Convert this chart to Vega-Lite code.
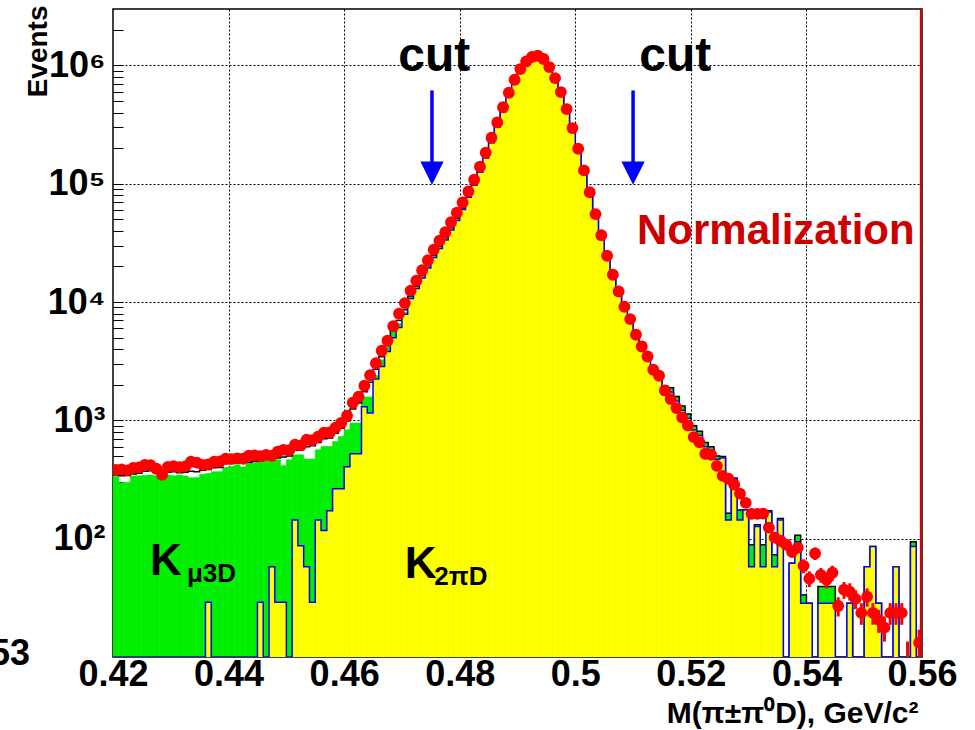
{
"$schema": "https://vega.github.io/schema/vega-lite/v6.json",
"width": 809, "height": 648,
"autosize": {"type": "none"},
"padding": {"left": 113, "top": 9, "right": 53, "bottom": 73},
"background": "white",
"config": {"font": "Liberation Sans", "view": {"stroke": "#000", "strokeWidth": 1.5}, "axis": {"domain": false}},
"datasets": {"h": [
{"lo":0.420,"hi":0.421,"m":0.4205,"data":382,"tot":345,"kmu":335,"k2pi":10},
{"lo":0.421,"hi":0.422,"m":0.4215,"data":385,"tot":340,"kmu":297,"k2pi":10},
{"lo":0.422,"hi":0.423,"m":0.4225,"data":378,"tot":342,"kmu":300,"k2pi":10},
{"lo":0.423,"hi":0.424,"m":0.4235,"data":397,"tot":352,"kmu":338,"k2pi":10},
{"lo":0.424,"hi":0.425,"m":0.4245,"data":400,"tot":358,"kmu":340,"k2pi":10},
{"lo":0.425,"hi":0.426,"m":0.4255,"data":421,"tot":372,"kmu":342,"k2pi":10},
{"lo":0.426,"hi":0.427,"m":0.4265,"data":418,"tot":375,"kmu":345,"k2pi":10},
{"lo":0.427,"hi":0.428,"m":0.4275,"data":390,"tot":360,"kmu":340,"k2pi":10},
{"lo":0.428,"hi":0.429,"m":0.4285,"data":347,"tot":340,"kmu":332,"k2pi":10},
{"lo":0.429,"hi":0.430,"m":0.4295,"data":405,"tot":365,"kmu":345,"k2pi":10},
{"lo":0.430,"hi":0.431,"m":0.4305,"data":410,"tot":368,"kmu":340,"k2pi":10},
{"lo":0.431,"hi":0.432,"m":0.4315,"data":402,"tot":360,"kmu":345,"k2pi":10},
{"lo":0.432,"hi":0.433,"m":0.4325,"data":408,"tot":365,"kmu":338,"k2pi":10},
{"lo":0.433,"hi":0.434,"m":0.4335,"data":447,"tot":372,"kmu":327,"k2pi":10},
{"lo":0.434,"hi":0.435,"m":0.4345,"data":440,"tot":368,"kmu":328,"k2pi":10},
{"lo":0.435,"hi":0.436,"m":0.4355,"data":421,"tot":378,"kmu":350,"k2pi":10},
{"lo":0.436,"hi":0.437,"m":0.4365,"data":425,"tot":385,"kmu":355,"k2pi":29},
{"lo":0.437,"hi":0.438,"m":0.4375,"data":447,"tot":397,"kmu":368,"k2pi":10},
{"lo":0.438,"hi":0.439,"m":0.4385,"data":450,"tot":400,"kmu":368,"k2pi":10},
{"lo":0.439,"hi":0.440,"m":0.4395,"data":474,"tot":430,"kmu":400,"k2pi":10},
{"lo":0.440,"hi":0.441,"m":0.4405,"data":470,"tot":436,"kmu":407,"k2pi":10},
{"lo":0.441,"hi":0.442,"m":0.4415,"data":478,"tot":436,"kmu":421,"k2pi":10},
{"lo":0.442,"hi":0.443,"m":0.4425,"data":474,"tot":438,"kmu":403,"k2pi":10},
{"lo":0.443,"hi":0.444,"m":0.4435,"data":502,"tot":442,"kmu":436,"k2pi":10},
{"lo":0.444,"hi":0.445,"m":0.4445,"data":505,"tot":450,"kmu":436,"k2pi":10},
{"lo":0.445,"hi":0.446,"m":0.4455,"data":498,"tot":455,"kmu":453,"k2pi":29},
{"lo":0.446,"hi":0.447,"m":0.4465,"data":510,"tot":470,"kmu":464,"k2pi":10},
{"lo":0.447,"hi":0.448,"m":0.4475,"data":502,"tot":472,"kmu":464,"k2pi":58},
{"lo":0.448,"hi":0.449,"m":0.4485,"data":543,"tot":480,"kmu":464,"k2pi":29},
{"lo":0.449,"hi":0.450,"m":0.4495,"data":564,"tot":490,"kmu":414,"k2pi":29},
{"lo":0.450,"hi":0.451,"m":0.4505,"data":560,"tot":500,"kmu":464,"k2pi":10},
{"lo":0.451,"hi":0.452,"m":0.4515,"data":622,"tot":560,"kmu":512,"k2pi":144},
{"lo":0.452,"hi":0.453,"m":0.4525,"data":615,"tot":565,"kmu":512,"k2pi":87},
{"lo":0.453,"hi":0.454,"m":0.4535,"data":686,"tot":600,"kmu":471,"k2pi":58},
{"lo":0.454,"hi":0.455,"m":0.4545,"data":680,"tot":610,"kmu":471,"k2pi":29},
{"lo":0.455,"hi":0.456,"m":0.4555,"data":727,"tot":650,"kmu":564,"k2pi":144},
{"lo":0.456,"hi":0.457,"m":0.4565,"data":786,"tot":700,"kmu":602,"k2pi":117},
{"lo":0.457,"hi":0.458,"m":0.4575,"data":790,"tot":710,"kmu":602,"k2pi":172},
{"lo":0.458,"hi":0.459,"m":0.4585,"data":866,"tot":780,"kmu":663,"k2pi":264},
{"lo":0.459,"hi":0.460,"m":0.4595,"data":954,"tot":860,"kmu":731,"k2pi":264},
{"lo":0.460,"hi":0.461,"m":0.4605,"data":1094,"tot":990,"kmu":833,"k2pi":405},
{"lo":0.461,"hi":0.462,"m":0.4615,"data":1409,"tot":1250,"kmu":949,"k2pi":523},
{"lo":0.462,"hi":0.463,"m":0.4625,"data":1583,"tot":1400,"kmu":949,"k2pi":523},
{"lo":0.463,"hi":0.464,"m":0.4635,"data":1961,"tot":1750,"kmu":1577,"k2pi":1305},
{"lo":0.464,"hi":0.465,"m":0.4645,"data":2406,"tot":2100,"kmu":1577,"k2pi":1153},
{"lo":0.465,"hi":0.466,"m":0.4655,"data":3039,"tot":2700,"kmu":2400,"k2pi":2234},
{"lo":0.466,"hi":0.467,"m":0.4665,"data":3875,"tot":3450,"kmu":3253,"k2pi":2855},
{"lo":0.467,"hi":0.468,"m":0.4675,"data":4709,"tot":4350,"kmu":4214,"k2pi":3822},
{"lo":0.468,"hi":0.469,"m":0.4685,"data":6244,"tot":5800,"kmu":5640,"k2pi":5000},
{"lo":0.469,"hi":0.470,"m":0.4695,"data":7963,"tot":7000,"kmu":6600,"k2pi":6100},
{"lo":0.470,"hi":0.471,"m":0.4705,"data":9806,"tot":8600,"kmu":8200,"k2pi":7900},
{"lo":0.471,"hi":0.472,"m":0.4715,"data":12460,"tot":11200,"kmu":11000,"k2pi":10700},
{"lo":0.472,"hi":0.473,"m":0.4725,"data":15140,"tot":13600,"kmu":13300,"k2pi":13000},
{"lo":0.473,"hi":0.474,"m":0.4735,"data":18570,"tot":16700,"kmu":16300,"k2pi":16000},
{"lo":0.474,"hi":0.475,"m":0.4745,"data":22560,"tot":20300,"kmu":19800,"k2pi":19400},
{"lo":0.475,"hi":0.476,"m":0.4755,"data":27680,"tot":24900,"kmu":24300,"k2pi":23800},
{"lo":0.476,"hi":0.477,"m":0.4765,"data":32980,"tot":29700,"kmu":29000,"k2pi":28400},
{"lo":0.477,"hi":0.478,"m":0.4775,"data":38900,"tot":35000,"kmu":34200,"k2pi":33500},
{"lo":0.478,"hi":0.479,"m":0.4785,"data":47270,"tot":42500,"kmu":41600,"k2pi":40700},
{"lo":0.479,"hi":0.480,"m":0.4795,"data":56870,"tot":51200,"kmu":50000,"k2pi":49000},
{"lo":0.480,"hi":0.481,"m":0.4805,"data":69490,"tot":62500,"kmu":61500,"k2pi":60500},
{"lo":0.481,"hi":0.482,"m":0.4815,"data":86070,"tot":77000,"kmu":77000,"k2pi":77000},
{"lo":0.482,"hi":0.483,"m":0.4825,"data":108100,"tot":97000,"kmu":97000,"k2pi":97000},
{"lo":0.483,"hi":0.484,"m":0.4835,"data":139200,"tot":125000,"kmu":125000,"k2pi":125000},
{"lo":0.484,"hi":0.485,"m":0.4845,"data":182800,"tot":165000,"kmu":165000,"k2pi":165000},
{"lo":0.485,"hi":0.486,"m":0.4855,"data":244800,"tot":222000,"kmu":222000,"k2pi":222000},
{"lo":0.486,"hi":0.487,"m":0.4865,"data":329800,"tot":300000,"kmu":300000,"k2pi":300000},
{"lo":0.487,"hi":0.488,"m":0.4875,"data":443300,"tot":405000,"kmu":405000,"k2pi":405000},
{"lo":0.488,"hi":0.489,"m":0.4885,"data":587800,"tot":540000,"kmu":540000,"k2pi":540000},
{"lo":0.489,"hi":0.490,"m":0.4895,"data":756900,"tot":700000,"kmu":700000,"k2pi":700000},
{"lo":0.490,"hi":0.491,"m":0.4905,"data":932400,"tot":870000,"kmu":870000,"k2pi":870000},
{"lo":0.491,"hi":0.492,"m":0.4915,"data":1081000,"tot":1020000,"kmu":1020000,"k2pi":1020000},
{"lo":0.492,"hi":0.493,"m":0.4925,"data":1178000,"tot":1130000,"kmu":1130000,"k2pi":1130000},
{"lo":0.493,"hi":0.494,"m":0.4935,"data":1208000,"tot":1170000,"kmu":1170000,"k2pi":1170000},
{"lo":0.494,"hi":0.495,"m":0.4945,"data":1133000,"tot":1120000,"kmu":1120000,"k2pi":1120000},
{"lo":0.495,"hi":0.496,"m":0.4955,"data":969400,"tot":960000,"kmu":960000,"k2pi":960000},
{"lo":0.496,"hi":0.497,"m":0.4965,"data":782300,"tot":780000,"kmu":780000,"k2pi":780000},
{"lo":0.497,"hi":0.498,"m":0.4975,"data":595900,"tot":596000,"kmu":596000,"k2pi":596000},
{"lo":0.498,"hi":0.499,"m":0.4985,"data":428000,"tot":430000,"kmu":430000,"k2pi":430000},
{"lo":0.499,"hi":0.500,"m":0.4995,"data":295700,"tot":296000,"kmu":296000,"k2pi":296000},
{"lo":0.500,"hi":0.501,"m":0.5005,"data":197700,"tot":198000,"kmu":198000,"k2pi":198000},
{"lo":0.501,"hi":0.502,"m":0.5015,"data":129600,"tot":130000,"kmu":130000,"k2pi":130000},
{"lo":0.502,"hi":0.503,"m":0.5025,"data":84750,"tot":85000,"kmu":85000,"k2pi":85000},
{"lo":0.503,"hi":0.504,"m":0.5035,"data":55440,"tot":55000,"kmu":55000,"k2pi":55000},
{"lo":0.504,"hi":0.505,"m":0.5045,"data":36710,"tot":35200,"kmu":35200,"k2pi":35200},
{"lo":0.505,"hi":0.506,"m":0.5055,"data":24630,"tot":23600,"kmu":23600,"k2pi":23600},
{"lo":0.506,"hi":0.507,"m":0.5065,"data":17020,"tot":16300,"kmu":16300,"k2pi":16300},
{"lo":0.507,"hi":0.508,"m":0.5075,"data":12290,"tot":11800,"kmu":11800,"k2pi":11800},
{"lo":0.508,"hi":0.509,"m":0.5085,"data":9127,"tot":8800,"kmu":8800,"k2pi":8800},
{"lo":0.509,"hi":0.510,"m":0.5095,"data":7182,"tot":6900,"kmu":6900,"k2pi":6900},
{"lo":0.510,"hi":0.511,"m":0.5105,"data":5291,"tot":5100,"kmu":5100,"k2pi":5100},
{"lo":0.511,"hi":0.512,"m":0.5115,"data":4214,"tot":4550,"kmu":4550,"k2pi":4420},
{"lo":0.512,"hi":0.513,"m":0.5125,"data":3469,"tot":3750,"kmu":3750,"k2pi":3640},
{"lo":0.513,"hi":0.514,"m":0.5135,"data":2677,"tot":2900,"kmu":2900,"k2pi":2810},
{"lo":0.514,"hi":0.515,"m":0.5145,"data":2382,"tot":2580,"kmu":2580,"k2pi":2500},
{"lo":0.515,"hi":0.516,"m":0.5155,"data":1789,"tot":1940,"kmu":1940,"k2pi":1880},
{"lo":0.516,"hi":0.517,"m":0.5165,"data":1514,"tot":1890,"kmu":1890,"k2pi":1740},
{"lo":0.517,"hi":0.518,"m":0.5175,"data":1271,"tot":1590,"kmu":1590,"k2pi":1460},
{"lo":0.518,"hi":0.519,"m":0.5185,"data":1058,"tot":1320,"kmu":1320,"k2pi":1220},
{"lo":0.519,"hi":0.520,"m":0.5195,"data":906,"tot":1130,"kmu":1130,"k2pi":1040},
{"lo":0.520,"hi":0.521,"m":0.5205,"data":723,"tot":900,"kmu":900,"k2pi":830},
{"lo":0.521,"hi":0.522,"m":0.5215,"data":651,"tot":810,"kmu":810,"k2pi":750},
{"lo":0.522,"hi":0.523,"m":0.5225,"data":522,"tot":650,"kmu":650,"k2pi":600},
{"lo":0.523,"hi":0.524,"m":0.5235,"data":512,"tot":600,"kmu":600,"k2pi":560},
{"lo":0.524,"hi":0.525,"m":0.5245,"data":413,"tot":500,"kmu":500,"k2pi":470},
{"lo":0.525,"hi":0.526,"m":0.5255,"data":340,"tot":495,"kmu":495,"k2pi":480,"elo":322,"ehi":358},
{"lo":0.526,"hi":0.527,"m":0.5265,"data":321,"tot":164,"kmu":164,"k2pi":144,"elo":303,"ehi":339},
{"lo":0.527,"hi":0.528,"m":0.5275,"data":286,"tot":325,"kmu":325,"k2pi":325,"elo":269,"ehi":303},
{"lo":0.528,"hi":0.529,"m":0.5285,"data":240,"tot":175,"kmu":175,"k2pi":144,"elo":224,"ehi":255},
{"lo":0.529,"hi":0.530,"m":0.5295,"data":201,"tot":175,"kmu":175,"k2pi":175,"elo":187,"ehi":215},
{"lo":0.530,"hi":0.531,"m":0.5305,"data":162,"tot":89,"kmu":89,"k2pi":58,"elo":149,"ehi":175},
{"lo":0.531,"hi":0.532,"m":0.5315,"data":162,"tot":131,"kmu":131,"k2pi":127,"elo":149,"ehi":175},
{"lo":0.532,"hi":0.533,"m":0.5325,"data":163,"tot":89,"kmu":89,"k2pi":58,"elo":150,"ehi":176},
{"lo":0.533,"hi":0.534,"m":0.5335,"data":124,"tot":172,"kmu":172,"k2pi":168,"elo":113,"ehi":135},
{"lo":0.534,"hi":0.535,"m":0.5345,"data":102,"tot":73,"kmu":73,"k2pi":58,"elo":92,"ehi":112},
{"lo":0.535,"hi":0.536,"m":0.5355,"data":96,"tot":148,"kmu":148,"k2pi":144,"elo":86,"ehi":106},
{"lo":0.536,"hi":0.537,"m":0.5365,"data":89,"tot":10,"kmu":10,"k2pi":10,"elo":80,"ehi":98},
{"lo":0.537,"hi":0.538,"m":0.5375,"data":77.5,"tot":62,"kmu":62,"k2pi":62,"elo":69,"ehi":86},
{"lo":0.538,"hi":0.539,"m":0.5385,"data":84,"tot":107,"kmu":107,"k2pi":94,"elo":75,"ehi":93},
{"lo":0.539,"hi":0.540,"m":0.5395,"data":59,"tot":33.5,"kmu":33.5,"k2pi":28.5,"elo":51,"ehi":67},
{"lo":0.540,"hi":0.541,"m":0.5405,"data":46,"tot":28.5,"kmu":28.5,"k2pi":28.5,"elo":39,"ehi":53},
{"lo":0.541,"hi":0.542,"m":0.5415,"data":75,"tot":10,"kmu":10,"k2pi":10,"elo":66,"ehi":84},
{"lo":0.542,"hi":0.543,"m":0.5425,"data":49.5,"tot":39.4,"kmu":39.4,"k2pi":28.5,"elo":42.5,"ehi":56.5},
{"lo":0.543,"hi":0.544,"m":0.5435,"data":45,"tot":39.4,"kmu":39.4,"k2pi":28.5,"elo":38,"ehi":52},
{"lo":0.544,"hi":0.545,"m":0.5445,"data":51.5,"tot":39.4,"kmu":39.4,"k2pi":28.5,"elo":44,"ehi":59},
{"lo":0.545,"hi":0.546,"m":0.5455,"data":27,"tot":10,"kmu":10,"k2pi":10,"elo":22,"ehi":32},
{"lo":0.546,"hi":0.547,"m":0.5465,"data":37,"tot":10,"kmu":10,"k2pi":10,"elo":31,"ehi":43},
{"lo":0.547,"hi":0.548,"m":0.5475,"data":35.6,"tot":28.5,"kmu":28.5,"k2pi":28.5,"elo":30,"ehi":42},
{"lo":0.548,"hi":0.549,"m":0.5485,"data":31,"tot":10,"kmu":10,"k2pi":10,"elo":25.4,"ehi":36.6},
{"lo":0.549,"hi":0.550,"m":0.5495,"data":23.6,"tot":10,"kmu":10,"k2pi":10,"elo":18.7,"ehi":28.5},
{"lo":0.550,"hi":0.551,"m":0.5505,"data":32.3,"tot":58,"kmu":58,"k2pi":58,"elo":26.6,"ehi":38},
{"lo":0.551,"hi":0.552,"m":0.5515,"data":23.6,"tot":86,"kmu":86,"k2pi":86,"elo":18.7,"ehi":28.5},
{"lo":0.552,"hi":0.553,"m":0.5525,"data":20.6,"tot":28.5,"kmu":28.5,"k2pi":28.5,"elo":16,"ehi":25},
{"lo":0.553,"hi":0.554,"m":0.5535,"data":17.7,"tot":10,"kmu":10,"k2pi":10,"elo":13.5,"ehi":22},
{"lo":0.554,"hi":0.555,"m":0.5545,"data":23.6,"tot":10,"kmu":10,"k2pi":10,"elo":18.7,"ehi":28.5},
{"lo":0.555,"hi":0.556,"m":0.5555,"data":23.6,"tot":58,"kmu":58,"k2pi":58,"elo":18.7,"ehi":28.5},
{"lo":0.556,"hi":0.557,"m":0.5565,"data":23.6,"tot":10,"kmu":10,"k2pi":10,"elo":18.7,"ehi":28.5},
{"lo":0.557,"hi":0.558,"m":0.5575,"data":9,"tot":10,"kmu":10,"k2pi":10,"elo":6,"ehi":13.5},
{"lo":0.558,"hi":0.559,"m":0.5585,"data":null,"tot":94,"kmu":94,"k2pi":86},
{"lo":0.559,"hi":0.560,"m":0.5595,"data":13.2,"tot":10,"kmu":10,"k2pi":10,"elo":9.6,"ehi":17},
{"lo":0.560,"tot":10,"kmu":10,"k2pi":10}
]},
"data": {"name": "h"},
"layer": [
{"transform": [{"filter": "isValid(datum.hi)"}],
 "mark": {"type": "bar", "fill": "#00ee00", "stroke": "#00ee00", "strokeWidth": 0.6, "clip": true},
 "encoding": {
  "x": {"field": "lo", "type": "quantitative", "scale": {"domain": [0.42, 0.56], "nice": false, "zero": false},
   "axis": {"values": [0.42,0.44,0.46,0.48,0.5,0.52,0.54,0.56], "labelExpr": "format(datum.value, '.2~f')",
    "labelFontSize": 36, "labelFontWeight": "bold", "labelColor": "#000", "labelPadding": 0, "labelOverlap": false, "labelFlush": false, "labelBound": false,
    "ticks": false, "grid": true, "gridColor": "#000", "gridDash": [2,2], "gridWidth": 1,
    "gridOpacity": {"condition": {"test": "datum.value > 0.43 && datum.value < 0.55", "value": 1}, "value": 0},
    "title": "M(π±π⁰D), GeV/c²", "titleFontSize": 30, "titleFontWeight": "bold", "titleColor": "#000",
    "titleAnchor": "end", "titleAlign": "right", "titleX": 805, "titleY": 65, "titleBaseline": "alphabetic"}},
  "x2": {"field": "hi"},
  "y": {"field": "kmu", "type": "quantitative", "scale": {"type": "log", "domain": [10, 3000000], "nice": false},
   "axis": {"values": [20,30,40,50,60,70,80,90,100,200,300,400,500,600,700,800,900,1000,2000,3000,4000,5000,6000,7000,8000,9000,10000,20000,30000,40000,50000,60000,70000,80000,90000,100000,200000,300000,400000,500000,600000,700000,800000,900000,1000000,2000000],
    "labelExpr": "datum.value == 100 ? '10²' : datum.value == 1000 ? '10³' : datum.value == 10000 ? '10⁴' : datum.value == 100000 ? '10⁵' : datum.value == 1000000 ? '10⁶' : ''",
    "labelFontSize": 36, "labelFontWeight": "bold", "labelColor": "#000", "labelPadding": 18, "labelOverlap": false, "labelBound": false,
    "ticks": true, "tickColor": "#000", "tickWidth": 1, "tickSize": -10,
    "grid": true, "gridColor": "#000", "gridDash": [2,2], "gridWidth": 1,
    "gridOpacity": {"condition": {"test": "datum.value == 100 || datum.value == 1000 || datum.value == 10000 || datum.value == 100000 || datum.value == 1000000", "value": 1}, "value": 0},
    "title": "Events", "titleFontSize": 28, "titleFontWeight": "bold", "titleColor": "#000",
    "titleAngle": 270, "titleAnchor": "end", "titleAlign": "right", "titleBaseline": "middle", "titleX": -75, "titleY": -4}},
  "y2": {"datum": 1}
 }},
{"mark": {"type": "line", "interpolate": "step-after", "color": "#000", "strokeWidth": 1.5, "clip": true},
 "encoding": {
  "x": {"field": "lo", "type": "quantitative", "scale": {"domain": [0.42, 0.56], "nice": false, "zero": false}},
  "y": {"field": "tot", "type": "quantitative", "scale": {"type": "log", "domain": [10, 3000000], "nice": false}}
 }},
{"transform": [{"filter": "isValid(datum.hi)"}],
 "mark": {"type": "bar", "fill": "#ffff00", "stroke": "#ffff00", "strokeWidth": 0.6, "clip": true},
 "encoding": {
  "x": {"field": "lo", "type": "quantitative", "scale": {"domain": [0.42, 0.56], "nice": false, "zero": false}},
  "x2": {"field": "hi"},
  "y": {"field": "k2pi", "type": "quantitative", "scale": {"type": "log", "domain": [10, 3000000], "nice": false}},
  "y2": {"datum": 1}
 }},
{"mark": {"type": "line", "interpolate": "step-after", "color": "#0000ff", "strokeWidth": 1.5, "clip": true},
 "encoding": {
  "x": {"field": "lo", "type": "quantitative", "scale": {"domain": [0.42, 0.56], "nice": false, "zero": false}},
  "y": {"field": "k2pi", "type": "quantitative", "scale": {"type": "log", "domain": [10, 3000000], "nice": false}}
 }},
{"mark": {"type": "rule", "color": "#ff0000", "strokeWidth": 3, "clip": true},
 "encoding": {
  "x": {"field": "m", "type": "quantitative", "scale": {"domain": [0.42, 0.56], "nice": false, "zero": false}},
  "y": {"field": "elo", "type": "quantitative", "scale": {"type": "log", "domain": [10, 3000000], "nice": false}},
  "y2": {"field": "ehi"}
 }},
{"mark": {"type": "point", "shape": "circle", "filled": true, "color": "#ff0000", "opacity": 1, "size": 140, "clip": true},
 "encoding": {
  "x": {"field": "m", "type": "quantitative", "scale": {"domain": [0.42, 0.56], "nice": false, "zero": false}},
  "y": {"field": "data", "type": "quantitative", "scale": {"type": "log", "domain": [10, 3000000], "nice": false}}
 }},
{"data": {"values": [{"m": 0.5598}]},
 "mark": {"type": "rule", "color": "#e00000", "strokeWidth": 2},
 "encoding": {
  "x": {"field": "m", "type": "quantitative", "scale": {"domain": [0.42, 0.56], "nice": false, "zero": false}}
 }},
{"data": {"values": [{"m": 0.4752, "top": 615000, "bot": 150000}, {"m": 0.51, "top": 615000, "bot": 150000}]},
 "mark": {"type": "rule", "color": "#0000ff", "strokeWidth": 3.5},
 "encoding": {
  "x": {"field": "m", "type": "quantitative", "scale": {"domain": [0.42, 0.56], "nice": false, "zero": false}},
  "y": {"field": "top", "type": "quantitative", "scale": {"type": "log", "domain": [10, 3000000], "nice": false}},
  "y2": {"field": "bot"}
 }},
{"data": {"values": [{"m": 0.4752, "v": 123000}, {"m": 0.51, "v": 123000}]},
 "mark": {"type": "point", "shape": "M-1,-1L1,-1L0,1Z", "filled": true, "color": "#0000ff", "opacity": 1, "size": 540, "strokeWidth": 0},
 "encoding": {
  "x": {"field": "m", "type": "quantitative", "scale": {"domain": [0.42, 0.56], "nice": false, "zero": false}},
  "y": {"field": "v", "type": "quantitative", "scale": {"type": "log", "domain": [10, 3000000], "nice": false}}
 }},
{"data": {"values": [{"m": 0.4756, "v": 902000, "t": "cut"}, {"m": 0.5173, "v": 902000, "t": "cut"}]},
 "mark": {"type": "text", "fontSize": 48, "fontWeight": "bold", "align": "center", "baseline": "alphabetic", "color": "#000"},
 "encoding": {
  "x": {"field": "m", "type": "quantitative", "scale": {"domain": [0.42, 0.56], "nice": false, "zero": false}},
  "y": {"field": "v", "type": "quantitative", "scale": {"type": "log", "domain": [10, 3000000], "nice": false}},
  "text": {"field": "t"}
 }},
{"data": {"values": [{"m": 0.5347, "v": 31100, "t": "Normalization"}]},
 "mark": {"type": "text", "fontSize": 42, "fontWeight": "bold", "align": "center", "baseline": "alphabetic", "color": "#cc0000"},
 "encoding": {
  "x": {"field": "m", "type": "quantitative", "scale": {"domain": [0.42, 0.56], "nice": false, "zero": false}},
  "y": {"field": "v", "type": "quantitative", "scale": {"type": "log", "domain": [10, 3000000], "nice": false}},
  "text": {"field": "t"}
 }},
{"data": {"values": [{"m": 0.4264, "v": 49.5, "t": "K"}, {"m": 0.4705, "v": 46.5, "t": "K"}]},
 "mark": {"type": "text", "fontSize": 44, "fontWeight": "bold", "align": "left", "baseline": "alphabetic", "color": "#000"},
 "encoding": {
  "x": {"field": "m", "type": "quantitative", "scale": {"domain": [0.42, 0.56], "nice": false, "zero": false}},
  "y": {"field": "v", "type": "quantitative", "scale": {"type": "log", "domain": [10, 3000000], "nice": false}},
  "text": {"field": "t"}
 }},
{"data": {"values": [{"m": 0.4328, "v": 42.8, "t": "μ3D"}, {"m": 0.4756, "v": 40.6, "t": "2πD"}]},
 "mark": {"type": "text", "fontSize": 26, "fontWeight": "bold", "align": "left", "baseline": "alphabetic", "color": "#000"},
 "encoding": {
  "x": {"field": "m", "type": "quantitative", "scale": {"domain": [0.42, 0.56], "nice": false, "zero": false}},
  "y": {"field": "v", "type": "quantitative", "scale": {"type": "log", "domain": [10, 3000000], "nice": false}},
  "text": {"field": "t"}
 }},
{"data": {"values": [{"m": 0.40564, "v": 8.6, "t": "53"}]},
 "mark": {"type": "text", "fontSize": 36, "fontWeight": "bold", "align": "right", "baseline": "alphabetic", "color": "#000"},
 "encoding": {
  "x": {"field": "m", "type": "quantitative", "scale": {"domain": [0.42, 0.56], "nice": false, "zero": false}},
  "y": {"field": "v", "type": "quantitative", "scale": {"type": "log", "domain": [10, 3000000], "nice": false}},
  "text": {"field": "t"}
 }}
]
}
